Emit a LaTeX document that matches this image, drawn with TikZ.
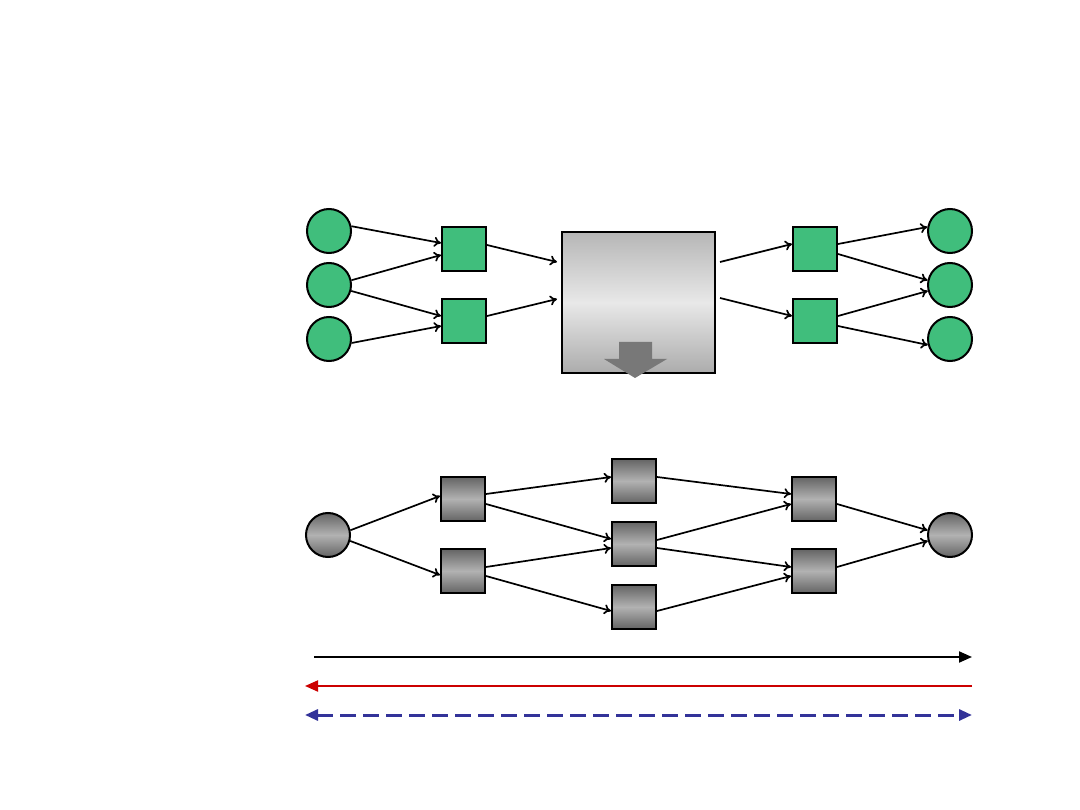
\documentclass[tikz,border=0pt]{standalone}
\usetikzlibrary{arrows.meta}
\definecolor{nodegreen}{RGB}{64,190,124}
\definecolor{darkg}{RGB}{100,100,100}
\definecolor{lightg}{RGB}{178,178,178}
\definecolor{boxtop}{RGB}{182,182,182}
\definecolor{boxmid}{RGB}{232,232,232}
\definecolor{boxbot}{RGB}{172,172,172}
\definecolor{arrowgray}{RGB}{120,120,120}
\definecolor{lred}{RGB}{204,0,0}
\definecolor{lblue}{RGB}{51,51,153}
\tikzset{
  gcirc/.style={circle,draw=black,line width=2pt,fill=nodegreen,minimum size=44pt,inner sep=0pt},
  gsq/.style={rectangle,draw=black,line width=2pt,fill=nodegreen,minimum size=44pt,inner sep=0pt},
  scirc/.style={circle,draw=black,line width=2pt,top color=darkg,bottom color=darkg,middle color=lightg,minimum size=44pt,inner sep=0pt},
  ssq/.style={rectangle,draw=black,line width=2pt,top color=darkg,bottom color=darkg,middle color=lightg,minimum size=44pt,inner sep=0pt},
  bigbox/.style={rectangle,draw=black,line width=1.8pt,top color=boxtop,bottom color=boxbot,middle color=boxmid,minimum width=153pt,minimum height=141pt,inner sep=0pt},
  edge/.style={line width=1.7pt,-{To[length=7pt,width=10pt]}},
  legline/.style={line width=2pt}
}
\begin{document}
\begin{tikzpicture}[x=1pt,y=-1pt]
\useasboundingbox (0,0) rectangle (1080,810);
% top section
\node[gcirc] (l1) at (329,231) {};
\node[gcirc] (l2) at (329,285) {};
\node[gcirc] (l3) at (329,339) {};
\node[gsq] (s1) at (464,249) {};
\node[gsq] (s2) at (464,321) {};
\node[bigbox] (box) at (638.5,302.5) {};
\node[gsq] (s3) at (815,249) {};
\node[gsq] (s4) at (815,321) {};
\node[gcirc] (r1) at (950,231) {};
\node[gcirc] (r2) at (950,285) {};
\node[gcirc] (r3) at (950,339) {};
\coordinate (bi1) at (557,262);
\coordinate (bi2) at (557,299);
\coordinate (bo1) at (720,262);
\coordinate (bo2) at (720,298);
\draw[edge] (l1.12) -- ([yshift=6pt]s1.west);
\draw[edge] (l2.12) -- ([yshift=-6pt]s1.west);
\draw[edge] (l2.-15) -- ([yshift=5pt]s2.west);
\draw[edge] (l3.-10) -- ([yshift=-5pt]s2.west);
\draw[edge] ([yshift=4pt]s1.east) -- (bi1);
\draw[edge] ([yshift=5pt]s2.east) -- (bi2);
\draw[edge] (bo1) -- ([yshift=5pt]s3.west);
\draw[edge] (bo2) -- ([yshift=5pt]s4.west);
\draw[edge] ([yshift=5pt]s3.east) -- (r1.170);
\draw[edge] ([yshift=-5pt]s3.east) -- (r2.168);
\draw[edge] ([yshift=5pt]s4.east) -- (r2.195);
\draw[edge] ([yshift=-5pt]s4.east) -- (r3.195);
% block down arrow
\fill[arrowgray] (619,342) -- (652,342) -- (652,359) -- (667,359) -- (635,378) -- (604,359) -- (619,359) -- cycle;
% bottom section
\node[scirc] (a0) at (328,535) {};
\node[ssq] (a) at (463,499) {};
\node[ssq] (b) at (463,571) {};
\node[ssq] (c) at (634,481) {};
\node[ssq] (d) at (634,544) {};
\node[ssq] (e) at (634,607) {};
\node[ssq] (f) at (814,499) {};
\node[ssq] (g) at (814,571) {};
\node[scirc] (z) at (950,535) {};
\draw[edge] (a0.12) -- ([yshift=3pt]a.west);
\draw[edge] (a0.-15) -- ([yshift=-4pt]b.west);
\draw[edge] ([yshift=5pt]a.east) -- ([yshift=4pt]c.west);
\draw[edge] ([yshift=-5pt]a.east) -- ([yshift=5pt]d.west);
\draw[edge] ([yshift=4pt]b.east) -- ([yshift=-4pt]d.west);
\draw[edge] ([yshift=-5pt]b.east) -- ([yshift=-4pt]e.west);
\draw[edge] ([yshift=4pt]c.east) -- ([yshift=5pt]f.west);
\draw[edge] ([yshift=4pt]d.east) -- ([yshift=-5pt]f.west);
\draw[edge] ([yshift=-4pt]d.east) -- ([yshift=4pt]g.west);
\draw[edge] ([yshift=-4pt]e.east) -- ([yshift=-5pt]g.west);
\draw[edge] ([yshift=-5pt]f.east) -- (z.168);
\draw[edge] ([yshift=4pt]g.east) -- (z.195);
% legend lines
\coordinate (k1) at (314,657);
\coordinate (k2) at (972,657);
\coordinate (m1) at (972,686);
\coordinate (m2) at (305,686);
\coordinate (n1) at (305,715);
\coordinate (n2) at (972,715);
\draw[legline,black,-{Triangle[length=13pt,width=11pt]}] (k1) -- (k2);
\draw[legline,lred,-{Triangle[length=13pt,width=11pt]}] (m1) -- (m2);
\draw[legline,lblue,line width=3pt,dash pattern=on 16pt off 7pt,{Triangle[length=13pt,width=11pt]}-{Triangle[length=13pt,width=11pt]}] (n1) -- (n2);
\end{tikzpicture}
\end{document}
